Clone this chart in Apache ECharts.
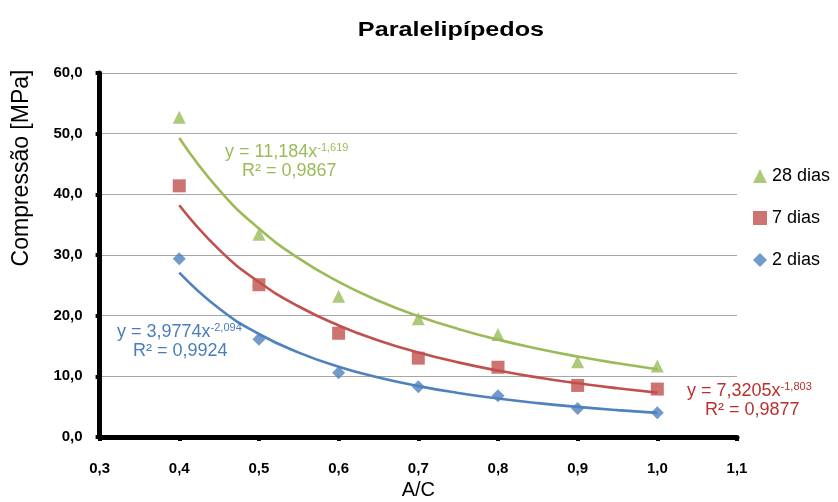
<!DOCTYPE html>
<html>
<head>
<meta charset="utf-8">
<script src="https://cdn.jsdelivr.net/npm/echarts@6/dist/echarts.min.js"></script>
<style>html,body{margin:0;padding:0;background:#fff}#c{width:838px;height:502px}</style>
</head>
<body>
<div id="c"></div>
<script>
// Measured points
const xPoints = [0.4, 0.5, 0.6, 0.7, 0.8, 0.9, 1.0];
const dias28 = [52.7, 33.4, 23.2, 19.5, 16.9, 12.4, 11.7];
const dias7 = [41.4, 25.1, 17.1, 13.0, 11.5, 8.5, 7.9];
const dias2 = [29.4, 16.1, 10.6, 8.3, 6.8, 4.7, 4.0];

// Trend curves (power fits)
const xTrend = [0.40, 0.45, 0.50, 0.55, 0.60, 0.65, 0.70, 0.75, 0.80, 0.85, 0.90, 0.95, 1.00];
const trend28 = [49.30, 40.74, 34.35, 29.44, 25.57, 22.46, 19.92, 17.82, 16.05, 14.55, 13.26, 12.15, 11.18];
const trend7 = [38.20, 30.89, 25.55, 21.51, 18.39, 15.92, 13.93, 12.30, 10.95, 9.81, 8.85, 8.03, 7.32];
const trend2 = [27.10, 21.17, 16.98, 13.91, 11.59, 9.80, 8.39, 7.26, 6.35, 5.59, 4.96, 4.43, 3.98];

const seriesNames = ['28 dias', '7 dias', '2 dias'];
const title = 'Paralelipípedos';
const xName = 'A/C';
const yName = 'Compressão [MPa]';

const GREEN = '#9BBB59', RED = '#C0504D', BLUE = '#4F81BD';
const FONT = '"Liberation Sans", Arial, sans-serif';

const zip = (xs, ys) => xs.map((x, i) => [x, ys[i]]);
const fmt = v => (Math.round(v * 10) / 10).toFixed(1).replace('.', ',');

const chart = echarts.init(document.getElementById('c'), null, {renderer: 'canvas'});

function trendLine(data, color) {
  return {
    type: 'line', data: data, smooth: true, showSymbol: false, symbol: 'none',
    lineStyle: {color: color, width: 2.6}, silent: true, z: 2, legendHoverLink: false
  };
}
function pts(name, data, color, symbol, size) {
  return {
    type: 'scatter', name: name, data: data, symbol: symbol, symbolSize: size,
    itemStyle: {color: color}, z: 3
  };
}

function eq(x, y, color, main, exp, r2x, r2y, r2) {
  return [
    {type: 'text', z: 10, style: {
      x: x, y: y, align: 'left', verticalAlign: 'middle',
      text: '{m|' + main + '}{e|' + exp + '}', fill: color,
      rich: {m: {fontSize: 18, fontFamily: FONT, lineHeight: 20, fill: color},
             e: {fontSize: 11, fontFamily: FONT, verticalAlign: 'top', lineHeight: 11, fill: color}}
    }},
    {type: 'text', z: 10, style: {
      x: r2x, y: r2y, align: 'left', verticalAlign: 'middle',
      text: r2, fill: color, font: '18px ' + FONT
    }}
  ];
}

const option = {
  backgroundColor: '#fff',
  animation: false,
  grid: {left: 99.6, right: 101, top: 73, bottom: 65, containLabel: false, outerBoundsMode: 'none'},
  legend: {
    orient: 'vertical', left: 748, top: 162, itemGap: 24, itemWidth: 14, itemHeight: 14,
    data: [
      {name: seriesNames[0], icon: 'triangle'},
      {name: seriesNames[1], icon: 'rect'},
      {name: seriesNames[2], icon: 'diamond'}
    ],
    textStyle: {fontFamily: FONT, fontSize: 18, color: '#000'}
  },
  xAxis: {
    type: 'value', min: 0.3, max: 1.1, interval: 0.1,
    name: xName, nameLocation: 'middle', nameGap: 40,
    nameTextStyle: {fontFamily: FONT, fontSize: 20, color: '#000'},
    axisLine: {show: true, onZero: false, lineStyle: {color: '#000', width: 5}},
    axisTick: {show: true, length: 4, inside: false, lineStyle: {color: '#000', width: 4}},
    axisLabel: {margin: 24, fontFamily: FONT, fontSize: 15, fontWeight: 'bold', color: '#000', formatter: fmt},
    splitLine: {show: false}
  },
  yAxis: {
    type: 'value', min: 0, max: 60, interval: 10,
    axisLine: {show: true, onZero: false, lineStyle: {color: '#000', width: 5}},
    axisTick: {show: true, length: 4, inside: false, lineStyle: {color: '#000', width: 4}},
    axisLabel: {margin: 17, fontFamily: FONT, fontSize: 15, fontWeight: 'bold', color: '#000', formatter: fmt},
    splitLine: {show: true, lineStyle: {color: '#a6a6a6', width: 1.2}}
  },
  series: [
    trendLine(zip(xTrend, trend28), GREEN),
    trendLine(zip(xTrend, trend7), RED),
    trendLine(zip(xTrend, trend2), BLUE),
    pts(seriesNames[0], zip(xPoints, dias28), GREEN, 'triangle', 13),
    pts(seriesNames[1], zip(xPoints, dias7), RED, 'rect', 13),
    pts(seriesNames[2], zip(xPoints, dias2), BLUE, 'diamond', 13)
  ],
  graphic: [
    {type: 'text', x: 451, y: 30, scaleX: 1.2, z: 10,
     style: {x: 0, y: 0, text: title, fill: '#000', font: 'bold 21px ' + FONT, align: 'center', verticalAlign: 'middle'}},
    {type: 'text', x: 22, y: 168, rotation: Math.PI / 2, z: 10,
     style: {x: 0, y: 0, text: yName, fill: '#000', font: '23px ' + FONT, align: 'center', verticalAlign: 'middle'}}
  ]
    .concat(eq(225, 152, GREEN, 'y = 11,184x', '-1,619', 242, 171, 'R² = 0,9867'))
    .concat(eq(117, 332, '#4A7EBB', 'y = 3,9774x', '-2,094', 133, 351, 'R² = 0,9924'))
    .concat(eq(687, 391, '#B8312F', 'y = 7,3205x', '-1,803', 705, 410, 'R² = 0,9877'))
};
chart.setOption(option);
</script>
</body>
</html>
